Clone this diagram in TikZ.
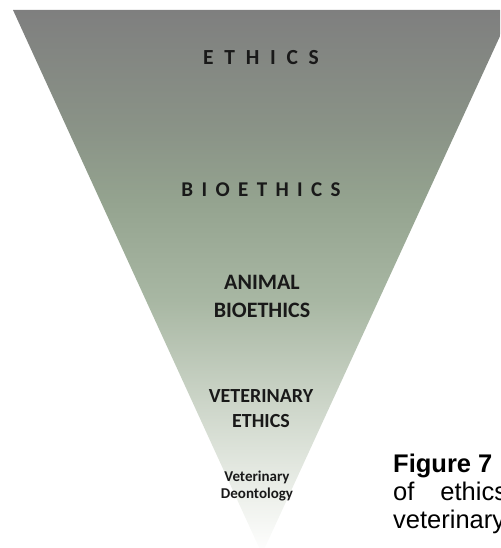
\documentclass[tikz,border=0pt]{standalone}
\usepackage{fontspec}
\setmainfont{Carlito}
\newfontfamily\capfont{Liberation Sans}
\definecolor{c0}{RGB}{127,127,127}
\definecolor{c1}{RGB}{138,147,135}
\definecolor{c2}{RGB}{148,163,143}
\definecolor{c3}{RGB}{168,183,163}
\definecolor{c4}{RGB}{203,212,199}
\definecolor{c5}{RGB}{238,241,236}
\definecolor{txt}{RGB}{25,25,25}
\pgfdeclareverticalshading{trishade}{100bp}{color(0bp)=(white); color(25bp)=(white); color(30bp)=(c5); color(39.2bp)=(c4); color(48.3bp)=(c3); color(57.5bp)=(c2); color(64bp)=(c1); color(75bp)=(c0); color(100bp)=(c0)}
\tikzset{
  level/.style={text=txt, font=\bfseries, align=center, inner sep=0pt},
  captext/.style={text=black, font=\capfont\fontsize{25.5}{28}\selectfont, anchor=base west, inner sep=0pt}
}
\begin{document}
\begin{tikzpicture}[x=1pt,y=1pt]
\useasboundingbox (0,0) rectangle (500,548);
\clip (0,0) rectangle (500,548);
\path[shading=trishade] (13,538) coordinate (tl) -- (512,538) coordinate (tr) -- (262,-6) coordinate (apex) -- cycle;
\node[level, font=\bfseries\fontsize{21.5}{25}\selectfont\addfontfeature{LetterSpace=50}] (ethics) at (261,490) {ETHICS};
\node[level, font=\bfseries\fontsize{21}{25}\selectfont\addfontfeature{LetterSpace=40}] (bioethics) at (261,358) {BIOETHICS};
\node[level, font=\bfseries\fontsize{22}{28}\selectfont] (animal) at (262,252) {ANIMAL\\BIOETHICS};
\node[level, font=\bfseries\fontsize{20}{25}\selectfont] (vet) at (261,139) {VETERINARY\\ETHICS};
\node[level, font=\bfseries\fontsize{15}{16.5}\selectfont] (deont) at (257,62) {Veterinary\\Deontology};
\node[captext, font=\capfont\bfseries\fontsize{25.5}{28}\selectfont] (fig) at (393,75) {Figure 7};
\node[captext] (l2) at (393,47) {of\hspace{26pt}ethics};
\node[captext] (l3) at (393,19) {veterinary};
\end{tikzpicture}
\end{document}
